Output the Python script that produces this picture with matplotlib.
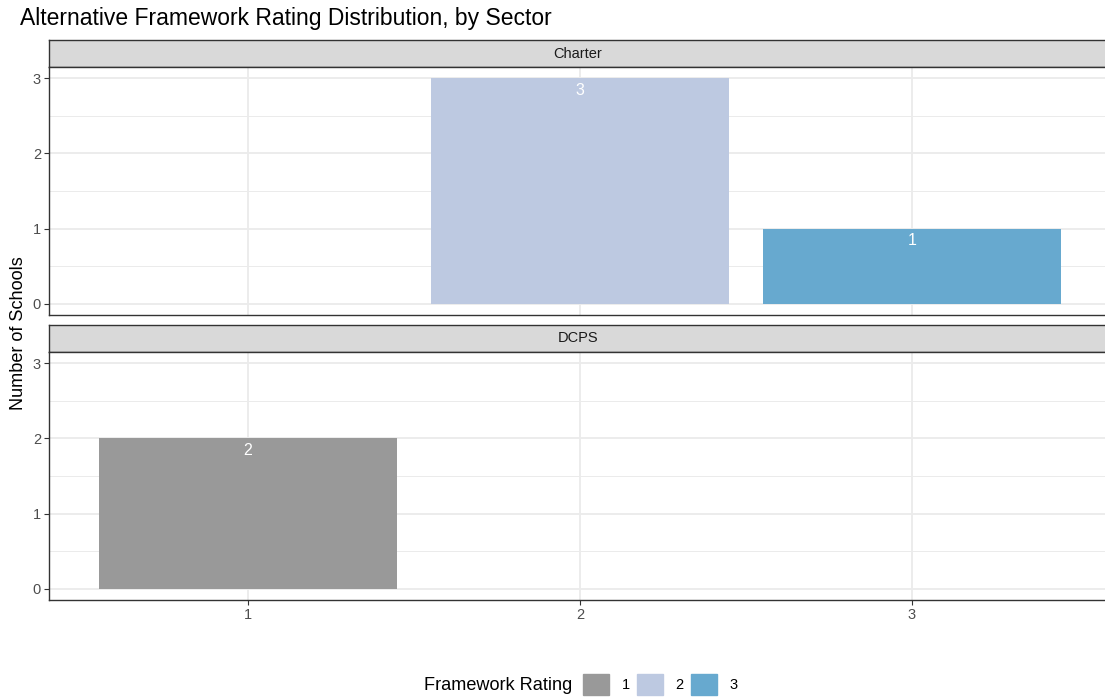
import numpy as np
import matplotlib.pyplot as plt

plt.rcParams['font.family'] = ['Liberation Sans', 'DejaVu Sans']

sectors = ['Charter', 'DCPS']
ratings = [1, 2, 3]
counts = {'Charter': [0, 3, 1], 'DCPS': [2, 0, 0]}
rating_colors = ['#999999', '#BDC9E1', '#67A9CF']

W, H = 1105, 700
fig = plt.figure(figsize=(W / 100, H / 100), dpi=100)
fig.set_facecolor('w')


def box(x0, y0, x1, y1):
    # pixel box (top-left origin) -> figure fraction rect
    return [x0 / W, 1 - y1 / H, (x1 - x0) / W, (y1 - y0) / H]


# panel x runs 0.4..3.6, 332 px per unit, 1 at x=248
px_left = 248 - 0.6 * 332
px_right = 912 + 0.6 * 332
panels = [(40, 67, 315), (325, 352, 600)]

for i, sec in enumerate(sectors):
    s_top, p_top, p_bot = panels[i]
    strip = fig.add_axes(box(px_left, s_top, px_right, p_top))
    strip.set_facecolor('#D9D9D9')
    strip.set_xticks([])
    strip.set_yticks([])
    for sp in strip.spines.values():
        sp.set_color('#333333')
        sp.set_linewidth(1.0)
    strip.text((578 - px_left) / (px_right - px_left), 0.5, sec, ha='center', va='center',
               fontsize=10.5, color='#1A1A1A', transform=strip.transAxes)

    ax = fig.add_axes(box(px_left, p_top, px_right, p_bot))
    ax.set_xlim(0.4, 3.6)
    ax.set_ylim(-0.15, 3.15)
    ax.set_axisbelow(True)
    ax.set_yticks([0, 1, 2, 3])
    ax.set_yticks([0.5, 1.5, 2.5], minor=True)
    ax.set_xticks(ratings)
    ax.grid(True, which='major', color='#EBEBEB', linewidth=1.3)
    ax.grid(True, which='minor', axis='y', color='#EBEBEB', linewidth=0.7)
    for sp in ax.spines.values():
        sp.set_color('#333333')
        sp.set_linewidth(1.0)
    ax.tick_params(axis='y', which='major', length=3.5, color='#333333',
                   labelsize=10.5, labelcolor='#4D4D4D', pad=2.2)
    ax.tick_params(axis='y', which='minor', length=0)
    if i == 0:
        ax.tick_params(axis='x', length=0, labelbottom=False)
    else:
        ax.tick_params(axis='x', length=3.5, color='#333333',
                       labelsize=10.5, labelcolor='#4D4D4D', pad=2.2)
        ax.set_xticklabels([str(r) for r in ratings])

    vals = counts[sec]
    for r, v, c in zip(ratings, vals, rating_colors):
        if v > 0:
            ax.bar(r, v, width=0.9, color=c, zorder=2)
            ax.text(r, v - 0.06, str(v), ha='center', va='top', color='white',
                    fontsize=11.5, zorder=3)

fig.text(20 / W, 1 - 19 / H, 'Alternative Framework Rating Distribution, by Sector',
         fontsize=16.5, ha='left', va='center', color='black')
fig.text(19 / W, 1 - 333 / H, 'Number of Schools', rotation=90, fontsize=13.1,
         ha='center', va='center', color='black')

# legend: title on the left, keys in one row
fig.text(424 / W, 1 - 685 / H, 'Framework Rating', fontsize=13.1,
         ha='left', va='center', color='black')
handles = [plt.Rectangle((0, 0), 1, 1, color=c) for c in rating_colors]
fig.legend(handles, [str(r) for r in ratings], loc='center left',
           bbox_to_anchor=(583 / W, 1 - 684.5 / H), ncol=3, frameon=False,
           fontsize=10.5, handlelength=1.8, handleheight=1.8,
           handletextpad=0.85, columnspacing=0.5, borderpad=0, borderaxespad=0)

fig.savefig('out.png', dpi=100)
